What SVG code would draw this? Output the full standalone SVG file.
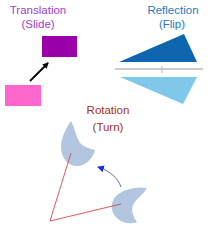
<svg xmlns="http://www.w3.org/2000/svg" width="212" height="238" viewBox="0 0 212 238">
<style>
text{font-family:"Liberation Sans",Arial,sans-serif;font-size:11.5px;text-anchor:middle}
.blob{fill:#B3C6E0}
</style>
<defs>
<marker id="ah" markerWidth="6" markerHeight="6" refX="5" refY="3" orient="auto" markerUnits="userSpaceOnUse"><path d="M0,0L6,3L0,6z" fill="#000"/></marker>
<marker id="bh" markerWidth="7" markerHeight="7" refX="6" refY="3.5" orient="auto" markerUnits="userSpaceOnUse"><path d="M0,0L7,3.5L0,7z" fill="#1A2FE0"/></marker>
</defs>
<rect width="212" height="238" fill="#fff"/>
<g id="translation">
<text x="38" y="14" fill="#A040C8">Translation</text>
<text x="38" y="28" fill="#A040C8">(Slide)</text>
<rect x="42" y="36" width="35" height="21" fill="#9900AA"/>
<rect x="5" y="85" width="36" height="21" fill="#FF66CC"/>
</g>
<g id="reflection">
<text x="173" y="14" fill="#2A78C0">Reflection</text>
<text x="172" y="28" fill="#2A78C0">(Flip)</text>
<polygon points="119,62 184,34 197,62" fill="#0E67AE"/>
<line x1="115" y1="69" x2="203" y2="69" stroke="#999" stroke-width="1"/>
<line x1="162" y1="66" x2="162" y2="73" stroke="#BBB" stroke-width="1"/>
<polygon points="120,77 197,77 183,104" fill="#80C8EA"/>
</g>
<g id="rotation">
<text x="108" y="114" fill="#A83020">Rotation</text>
<text x="108" y="131" fill="#A83020">(Turn)</text>
<path class="blob" d="M71,121 C66,128 61,138 61,147 C61,158 68,166 77,166 C86,166 93,158 95,150 C90,149 84,147 80,143 C76,137 75,128 71,121Z"/>
<path class="blob" d="M147,188 C138,186 124,189 117,195 C111,200 110,210 115,216 C120,222 128,225 137,222 C133,217 131,210 133,205 C136,199 143,195 147,188Z"/>
</g>
<g id="connectors">
<line x1="30" y1="81" x2="48" y2="63" stroke="#000" stroke-width="1.8" marker-end="url(#ah)"/>
<polyline points="71,153 50,221 121,204" fill="none" stroke="#D84848" stroke-width="0.9"/>
<path d="M121,187 C118,178 110,171 98,167" fill="none" stroke="#505C9C" stroke-width="0.9" marker-end="url(#bh)"/>
</g>
</svg>
